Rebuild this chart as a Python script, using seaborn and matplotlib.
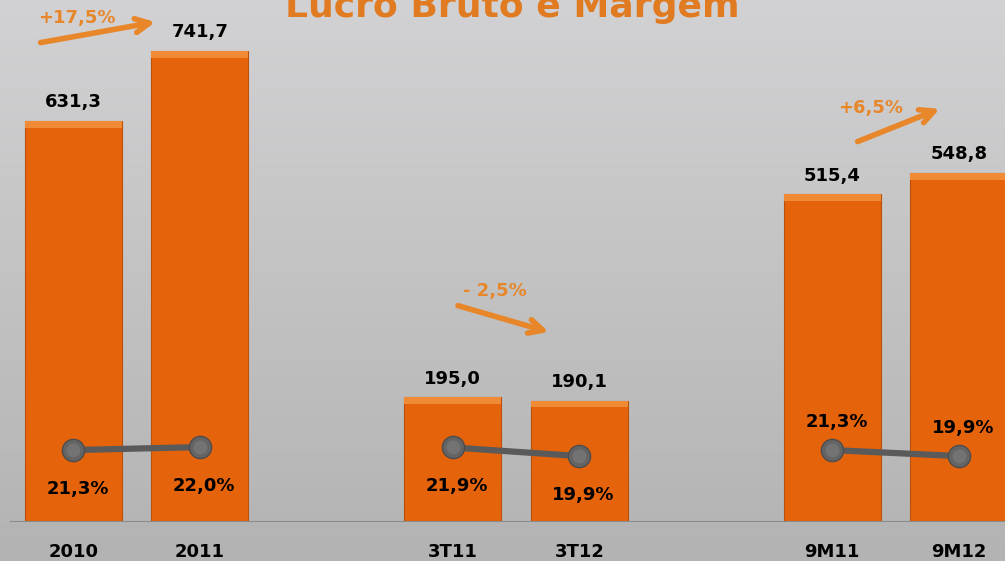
import numpy as np
import pandas as pd
import matplotlib.pyplot as plt
import seaborn as sns
from matplotlib.patches import Rectangle

# Dados do gráfico
categorias = ['2010', '2011', '', '3T11', '3T12', ' ', '9M11', '9M12']
lucro_bruto = [631.3, 741.7, np.nan, 195.0, 190.1, np.nan, 515.4, 548.8]
margem = [21.3, 22.0, np.nan, 21.9, 19.9, np.nan, 21.3, 19.9]
grupos = [('2010', '2011'), ('3T11', '3T12'), ('9M11', '9M12')]
variacoes = ['+17,5%', '- 2,5%', '+6,5%']

df = pd.DataFrame({'Periodo': categorias, 'Lucro': lucro_bruto, 'Margem': margem})
df['pos'] = np.arange(len(df))

def fmt(v, suf=''):
    return f'{v:.1f}'.replace('.', ',') + suf

sns.set_style('white')
plt.rcParams['font.family'] = ['DejaVu Sans']

fig = plt.figure(figsize=(10.05, 5.61), dpi=100)

# Fundo em degradê cinza
bg = fig.add_axes([0, 0, 1, 1], zorder=-10)
grad = np.linspace(0, 1, 256).reshape(-1, 1)
bg.imshow(grad, aspect='auto', cmap=sns.blend_palette(['#d2d2d4', '#b3b3b3'], as_cmap=True),
          extent=[0, 1, 0, 1], origin='upper')
bg.axis('off')

ax = fig.add_axes([10 / 1005, 40 / 561, 1012 / 1005, 521 / 561])
ax.patch.set_alpha(0)

laranja = '#e5630a'
sns.barplot(data=df, x='Periodo', y='Lucro', order=categorias, color=laranja,
            saturation=1, width=0.77, edgecolor='#b9500c', linewidth=0.8, ax=ax)
ax.set_xlim(-0.5, len(categorias) - 0.5)
ax.set_ylim(0, 822)

# Chanfro claro no topo das barras
for p in ax.patches:
    h = p.get_height()
    if np.isfinite(h) and h > 0:
        ax.add_patch(Rectangle((p.get_x(), h - 11), p.get_width(), 11,
                               color='#f08a35', lw=0, zorder=p.get_zorder() + 0.1))

for c in ax.containers:
    labels = [fmt(v) if np.isfinite(v) else '' for v in c.datavalues]
    ax.bar_label(c, labels=labels, padding=7, fontsize=13, fontweight='bold', color='black')

ax.set_xlabel('')
ax.set_ylabel('')
ax.set_yticks([])
for s in ['top', 'right', 'left']:
    ax.spines[s].set_visible(False)
ax.spines['bottom'].set_color('#8c8c8c')
ax.set_xticks(df['pos'])
ax.set_xticklabels(categorias, fontsize=13, fontweight='bold', color='black')
ax.set_xticks(np.arange(len(categorias) + 1) - 0.5, minor=True)
ax.tick_params(axis='x', which='major', length=0, pad=16, labelcolor='black')
ax.tick_params(axis='x', which='minor', length=6, color='#8c8c8c', width=1, direction='out')

# Margem no eixo secundário
ax2 = ax.twinx()
ax2.set_ylim(4.8, 126)
ax2.axis('off')
for a, b in grupos:
    sub = df[df['Periodo'].isin([a, b])]
    sns.lineplot(data=sub, x='pos', y='Margem', ax=ax2, color='#5a5a5a', lw=4.5,
                 marker='o', markersize=16, markerfacecolor='#646464',
                 markeredgecolor='#4d4d4d', markeredgewidth=1, legend=False)
    # brilho suave das esferas
    sns.scatterplot(data=sub, x='pos', y='Margem', ax=ax2, s=100, color='#737373',
                    linewidth=0, zorder=5, legend=False)
for i, row in df.iterrows():
    if np.isfinite(row['Margem']):
        acima = row['Periodo'].startswith('9M')
        ax2.annotate(fmt(row['Margem'], '%'), (row['pos'], row['Margem']),
                     xytext=(3, 20 if acima else -28), textcoords='offset points',
                     ha='center', va='center', fontsize=13, fontweight='bold', color='black')
ax2.set_xlim(ax.get_xlim())

# Setas de variação
cor_var = '#e8862a'
setas = [((-0.28, 754), (0.67, 788), (0.03, 794)),
         ((3.02, 341), (3.78, 297), (3.33, 363)),
         ((6.18, 597), (6.87, 652), (6.30, 652))]
for txt, (ini, fim, tpos) in zip(variacoes, setas):
    ax.annotate('', xy=fim, xytext=ini,
                arrowprops=dict(arrowstyle='->,head_length=1.0,head_width=0.5',
                                color=cor_var, lw=4))
    ax.text(tpos[0], tpos[1], txt, ha='center', va='center', fontsize=13,
            fontweight='bold', color=cor_var)

fig.text(0.51, 1 - 17 / 561, 'Lucro Bruto e Margem', ha='center', va='baseline',
         fontsize=26, fontweight='bold', color='#e07b22')

fig.savefig('out.png', dpi=100)
